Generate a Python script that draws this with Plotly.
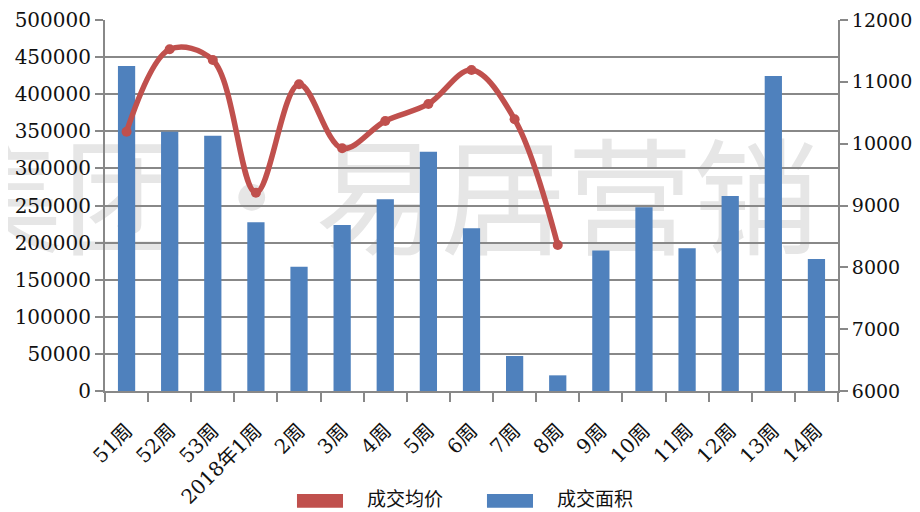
import plotly.graph_objects as go

categories = ["51周", "52周", "53周", "2018年1周", "2周", "3周", "4周", "5周", "6周",
              "7周", "8周", "9周", "10周", "11周", "12周", "13周", "14周"]
area = [438000, 349500, 344000, 227300, 167500, 223700, 258300, 322500, 219200,
        47200, 21100, 189500, 247500, 192300, 262800, 424500, 177900]
price = [10194, 11526, 11353, 9207, 10960, 9925, 10367, 10642, 11191, 10394, 8361,
         None, None, None, None, None, None]
series_names = ["成交均价", "成交面积"]
watermark = "集团·易居营销"

BLUE = "#4F81BD"
RED = "#C0504D"
GRID = "#888888"
FONT = "DejaVu Serif, Noto Sans CJK SC, serif"

fig = go.Figure()
fig.add_trace(go.Bar(x=categories, y=area, name=series_names[1], marker_color=BLUE,
                     marker_line_width=0, yaxis="y", showlegend=False))
fig.add_trace(go.Scatter(x=categories, y=price, name=series_names[0], yaxis="y2",
                         mode="lines+markers",
                         line=dict(color=RED, width=5.5, shape="spline", smoothing=1.0),
                         marker=dict(color=RED, size=10), connectgaps=False, showlegend=False))

# legend drawn as swatches + labels (below plot area)
legend_shapes = []
legend_annots = []
for name, color, x0 in [(series_names[0], RED, 0.2619), (series_names[1], BLUE, 0.5211)]:
    legend_shapes.append(dict(type="rect", xref="paper", yref="paper", x0=x0, x1=x0 + 0.0628,
                              y0=-0.315, y1=-0.2776, line=dict(width=0), fillcolor=color))
    legend_annots.append(dict(text=name, xref="paper", yref="paper", x=x0 + 0.093, y=-0.291,
                              xanchor="left", yanchor="middle", showarrow=False,
                              font=dict(size=19, family=FONT, color="#111111")))

wm = dict(type="rect", xref="paper", yref="paper", x0=-0.292, x1=1.036, y0=0.307, y1=0.667,
          line=dict(width=0), fillcolor="rgba(0,0,0,0)", layer="below",
          label=dict(text=watermark, textposition="middle center",
                     font=dict(size=126, color="#E6E6E6", family="Noto Sans CJK SC")))

# the page adds an 8px body margin, so the figure is sized to the remaining window
fig.update_layout(
    width=912, height=504,
    margin=dict(l=97, r=82, t=12, b=121),
    paper_bgcolor="white", plot_bgcolor="white",
    font=dict(family=FONT, color="#111111", size=20),
    bargap=0.6,
    showlegend=False,
    xaxis=dict(type="category", range=[-0.5, 16.5], showgrid=False, showline=True,
               linecolor=GRID, linewidth=2, automargin=False,
               ticks="outside", tickson="boundaries", ticklen=9, tickcolor=GRID, tickwidth=2,
               tickangle=-45, ticklabelstandoff=18, tickfont=dict(size=20, family=FONT)),
    yaxis=dict(range=[0, 500000], dtick=50000, showgrid=True, gridcolor=GRID, gridwidth=2,
               showline=True, linecolor=GRID, linewidth=2, ticks="outside", ticklen=8,
               tickcolor=GRID, tickwidth=2, zeroline=False, tickformat="d", automargin=False,
               tickfont=dict(size=20, family=FONT)),
    yaxis2=dict(range=[6000, 12000], dtick=1000, overlaying="y", side="right", showgrid=False,
                showline=True, linecolor=GRID, linewidth=2, ticks="outside", ticklen=8,
                tickcolor=GRID, tickwidth=2, zeroline=False, tickformat="d", automargin=False,
                tickfont=dict(size=19, family=FONT)),
    shapes=[wm] + legend_shapes,
    annotations=legend_annots,
)

fig.write_html("out.html")
